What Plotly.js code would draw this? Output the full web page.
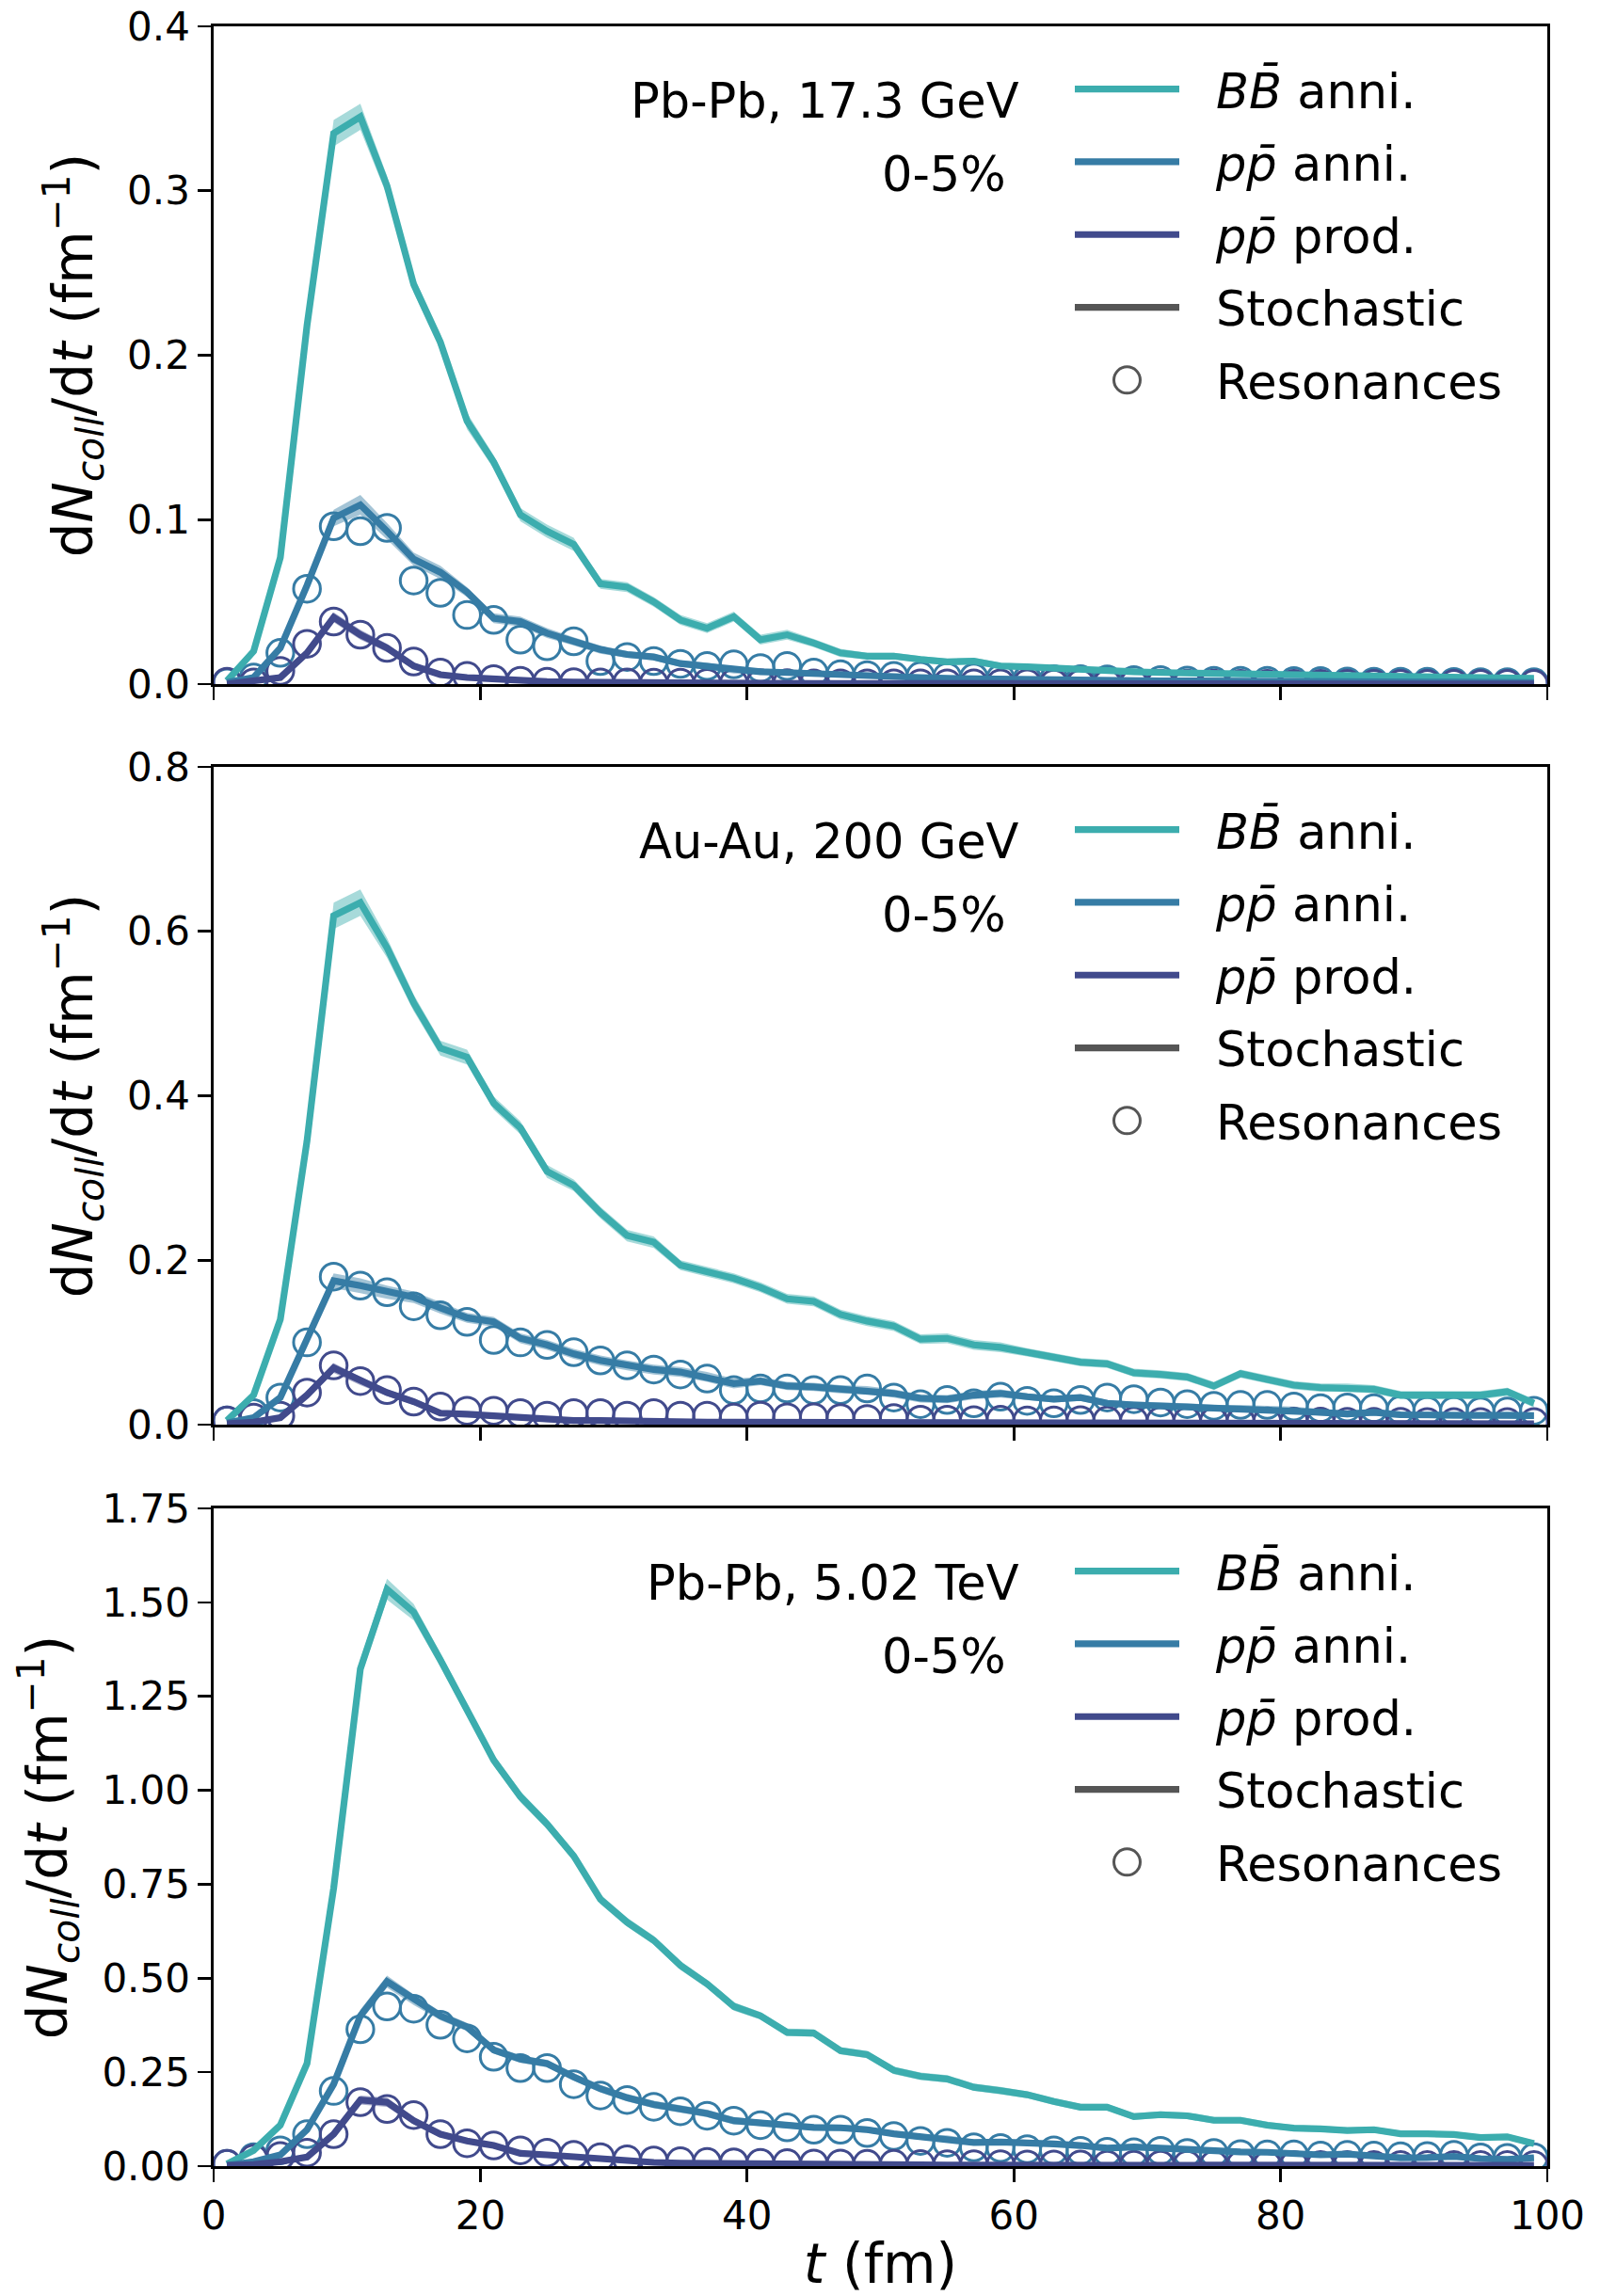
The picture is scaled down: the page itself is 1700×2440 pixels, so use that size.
<!DOCTYPE html>
<html>
<head>
<meta charset="utf-8">
<script src="https://cdn.plot.ly/plotly-3.0.1.min.js"></script>
<style>
html,body{margin:0;padding:0;background:#ffffff;}
#chart{width:1700px;height:2440px;}
</style>
</head>
<body>
<div id="chart"></div>
<script>
// ---------------- data ----------------
const t = [1,3,5,7,9,11,13,15,17,19,21,23,25,27,29,31,33,35,37,39,
           41,43,45,47,49,51,53,55,57,59,61,63,65,67,69,71,73,75,77,79,
           81,83,85,87,89,91,93,95,97,99];

const panelLabels = ['Pb-Pb, 17.3 GeV', 'Au-Au, 200 GeV', 'Pb-Pb, 5.02 TeV'];
const centralityLabel = '0-5%';
const seriesNames = ['<i>BB\u0304</i> anni.', '<i>pp\u0304</i> anni.', '<i>pp\u0304</i> prod.'];
const stochName = 'Stochastic';
const resName = 'Resonances';
const xTickVals = [0, 20, 40, 60, 80, 100];

// ---- Panel 1: Pb-Pb 17.3 GeV ----
const bb1 = [0.002,0.020,0.077,0.218,0.335,0.345,0.303,0.243,0.208,0.160,
             0.135,0.103,0.093,0.085,0.061,0.059,0.050,0.039,0.034,0.041,
             0.027,0.030,0.025,0.019,0.017,0.017,0.015,0.0135,0.014,0.011,
             0.0105,0.0095,0.009,0.008,0.0075,0.007,0.0068,0.0065,0.006,0.006,
             0.0055,0.0055,0.005,0.005,0.0048,0.0045,0.0042,0.004,0.0038,0.0035];
const bb1Err = [0.001,0.002,0.003,0.005,0.008,0.008,0.006,0.005,0.005,0.005,
                0.004,0.004,0.004,0.004,0.003,0.003,0.003,0.003,0.003,0.003,
                0.003,0.003,0.0025,0.0025,0.002,0.002,0.002,0.002,0.002,0.002,
                0.0018,0.0018,0.0018,0.0016,0.0016,0.0016,0.0015,0.0015,0.0015,0.0015,
                0.0014,0.0014,0.0014,0.0013,0.0013,0.0013,0.0012,0.0012,0.0012,0.0012];
const pa1 = [0.001,0.004,0.022,0.060,0.101,0.109,0.093,0.076,0.068,0.056,
             0.040,0.038,0.031,0.026,0.021,0.018,0.0165,0.0125,0.011,0.0085,
             0.0075,0.007,0.0062,0.0055,0.005,0.0045,0.004,0.0035,0.0032,0.003,
             0.0028,0.0026,0.0025,0.0023,0.0022,0.002,0.002,0.0018,0.0018,0.0016,
             0.0016,0.0015,0.0014,0.0014,0.0013,0.0012,0.0012,0.0011,0.001,0.001];
const pa1Err = [0.001,0.001,0.002,0.003,0.005,0.006,0.005,0.004,0.004,0.003,
                0.003,0.003,0.003,0.0025,0.0025,0.002,0.002,0.002,0.002,0.002,
                0.0015,0.0015,0.0015,0.0015,0.0015,0.0015,0.0015,0.0015,0.0015,0.0015,
                0.0012,0.0012,0.0012,0.0012,0.0012,0.0012,0.0012,0.0012,0.0012,0.0012,
                0.001,0.001,0.001,0.001,0.001,0.001,0.001,0.001,0.001,0.001];
const pa1Res = [0.001,0.004,0.019,0.058,0.096,0.093,0.095,0.063,0.0555,0.042,
                0.039,0.027,0.023,0.026,0.014,0.0165,0.014,0.0123,0.011,0.012,
                0.0097,0.011,0.007,0.006,0.0055,0.005,0.005,0.0045,0.004,0.0035,
                0.003,0.003,0.003,0.0028,0.0025,0.0025,0.0022,0.002,0.002,0.002,
                0.0018,0.0018,0.0016,0.0015,0.0015,0.0014,0.0013,0.0012,0.0012,0.0011];
const pp1 = [0.000,0.0015,0.004,0.019,0.0406,0.030,0.022,0.011,0.0057,0.004,
             0.003,0.002,0.0015,0.0012,0.001,0.0009,0.0008,0.0007,0.0006,0.0005,
             0.0005,0.0005,0.0004,0.0004,0.0004,0.0004,0.0003,0.0003,0.0003,0.0003,
             0.0003,0.0003,0.0002,0.0002,0.0002,0.0002,0.0002,0.0002,0.0002,0.0002,
             0.0002,0.0001,0.0001,0.0001,0.0001,0.0001,0.0001,0.0001,0.0001,0.0001];
const pp1Err = [0.0005,0.001,0.0015,0.002,0.003,0.003,0.0025,0.002,0.0015,0.0012,
                0.001,0.001,0.001,0.001,0.001,0.001,0.001,0.001,0.001,0.001,
                0.0008,0.0008,0.0008,0.0008,0.0008,0.0008,0.0008,0.0008,0.0008,0.0008,
                0.0006,0.0006,0.0006,0.0006,0.0006,0.0006,0.0006,0.0006,0.0006,0.0006,
                0.0005,0.0005,0.0005,0.0005,0.0005,0.0005,0.0005,0.0005,0.0005,0.0005];
const pp1Res = [0.0015,0.001,0.008,0.0245,0.038,0.030,0.022,0.0137,0.007,0.005,
                0.003,0.002,0.0015,0.0012,0.001,0.001,0.0008,0.0008,0.0007,0.0007,
                0.0006,0.0006,0.0005,0.0005,0.0005,0.0005,0.0004,0.0004,0.0004,0.0004,
                0.0004,0.0003,0.0003,0.0003,0.0003,0.0003,0.0003,0.0003,0.0002,0.0002,
                0.0002,0.0002,0.0002,0.0002,0.0002,0.0002,0.0002,0.0002,0.0002,0.0002];

// ---- Panel 2: Au-Au 200 GeV ----
const bb2 = [0.005,0.036,0.128,0.345,0.619,0.635,0.580,0.513,0.458,0.447,
             0.391,0.361,0.308,0.291,0.258,0.230,0.222,0.194,0.186,0.178,
             0.167,0.153,0.150,0.134,0.126,0.120,0.104,0.105,0.097,0.094,
             0.088,0.082,0.076,0.074,0.063,0.061,0.058,0.047,0.062,0.055,
             0.048,0.045,0.045,0.043,0.036,0.036,0.036,0.036,0.040,0.026];
const bb2Err = [0.002,0.004,0.006,0.010,0.016,0.016,0.012,0.010,0.009,0.009,
                0.008,0.008,0.008,0.007,0.007,0.007,0.007,0.006,0.006,0.006,
                0.006,0.006,0.006,0.006,0.006,0.006,0.006,0.006,0.006,0.006,
                0.005,0.005,0.005,0.005,0.005,0.005,0.005,0.005,0.005,0.005,
                0.005,0.005,0.005,0.005,0.005,0.005,0.005,0.005,0.005,0.005];
const pa2 = [0.002,0.0085,0.033,0.103,0.175,0.169,0.161,0.155,0.142,0.130,
             0.125,0.105,0.097,0.086,0.078,0.072,0.067,0.064,0.058,0.050,
             0.053,0.047,0.046,0.043,0.042,0.038,0.032,0.031,0.036,0.038,
             0.034,0.031,0.033,0.026,0.024,0.023,0.022,0.020,0.020,0.019,
             0.018,0.015,0.013,0.015,0.012,0.012,0.011,0.011,0.012,0.011];
const pa2Err = [0.001,0.002,0.004,0.006,0.009,0.009,0.008,0.007,0.007,0.006,
                0.006,0.006,0.006,0.006,0.006,0.006,0.006,0.006,0.006,0.006,
                0.005,0.005,0.005,0.005,0.005,0.005,0.005,0.005,0.005,0.005,
                0.004,0.004,0.004,0.004,0.004,0.004,0.004,0.004,0.004,0.004,
                0.004,0.004,0.004,0.004,0.004,0.004,0.004,0.004,0.004,0.004];
const pa2Res = [0.005,0.014,0.033,0.100,0.180,0.169,0.161,0.144,0.133,0.125,
                0.103,0.100,0.097,0.088,0.078,0.072,0.067,0.061,0.056,0.042,
                0.044,0.044,0.042,0.042,0.044,0.033,0.025,0.030,0.026,0.034,
                0.029,0.026,0.030,0.033,0.031,0.027,0.025,0.023,0.024,0.024,
                0.022,0.020,0.021,0.020,0.018,0.017,0.017,0.016,0.016,0.017];
const pp2 = [0.001,0.003,0.0085,0.036,0.069,0.053,0.039,0.028,0.014,0.0127,
             0.011,0.0085,0.006,0.005,0.005,0.004,0.004,0.0035,0.003,0.003,
             0.003,0.0028,0.0026,0.0025,0.0024,0.0022,0.002,0.002,0.0019,0.0018,
             0.0018,0.0017,0.0016,0.0016,0.0015,0.0015,0.0014,0.0014,0.0013,0.0013,
             0.0012,0.0012,0.0012,0.0011,0.0011,0.001,0.001,0.001,0.001,0.001];
const pp2Err = [0.001,0.002,0.003,0.004,0.006,0.005,0.004,0.004,0.003,0.003,
                0.003,0.003,0.003,0.003,0.003,0.003,0.003,0.003,0.003,0.003,
                0.002,0.002,0.002,0.002,0.002,0.002,0.002,0.002,0.002,0.002,
                0.002,0.002,0.002,0.002,0.002,0.002,0.002,0.002,0.002,0.002,
                0.002,0.002,0.002,0.002,0.002,0.002,0.002,0.002,0.002,0.002];
const pp2Res = [0.005,0.0085,0.011,0.039,0.072,0.053,0.042,0.028,0.022,0.017,
                0.017,0.014,0.011,0.014,0.014,0.011,0.014,0.011,0.011,0.0085,
                0.011,0.009,0.009,0.008,0.007,0.008,0.006,0.006,0.0055,0.006,
                0.005,0.005,0.0055,0.005,0.0045,0.0045,0.0042,0.004,0.004,0.004,
                0.0038,0.0036,0.0035,0.0035,0.0033,0.0032,0.003,0.003,0.003,0.003];

// ---- Panel 3: Pb-Pb 5.02 TeV ----
const bb3 = [0.006,0.042,0.109,0.273,0.740,1.323,1.535,1.474,1.347,1.214,
             1.080,0.983,0.910,0.825,0.710,0.649,0.601,0.534,0.485,0.425,
             0.400,0.356,0.354,0.307,0.297,0.255,0.239,0.232,0.210,0.201,
             0.190,0.172,0.157,0.157,0.132,0.137,0.134,0.122,0.122,0.109,
             0.101,0.099,0.095,0.097,0.086,0.086,0.084,0.076,0.078,0.060];
const bb3Err = [0.003,0.006,0.010,0.015,0.020,0.025,0.028,0.022,0.018,0.016,
                0.015,0.014,0.014,0.013,0.013,0.012,0.012,0.012,0.011,0.011,
                0.010,0.010,0.010,0.010,0.010,0.010,0.010,0.010,0.010,0.010,
                0.009,0.009,0.009,0.009,0.009,0.009,0.009,0.009,0.009,0.009,
                0.008,0.008,0.008,0.008,0.008,0.008,0.008,0.008,0.008,0.008];
const pa3 = [0.002,0.012,0.030,0.097,0.218,0.400,0.491,0.443,0.400,0.370,
             0.309,0.285,0.273,0.237,0.206,0.182,0.164,0.152,0.140,0.121,
             0.115,0.109,0.103,0.102,0.097,0.086,0.078,0.074,0.063,0.064,
             0.063,0.059,0.055,0.048,0.051,0.047,0.043,0.040,0.038,0.037,
             0.034,0.030,0.032,0.026,0.022,0.023,0.026,0.020,0.018,0.022];
const pa3Err = [0.002,0.004,0.006,0.010,0.014,0.016,0.016,0.014,0.012,0.011,
                0.010,0.010,0.010,0.010,0.010,0.010,0.010,0.010,0.010,0.010,
                0.008,0.008,0.008,0.008,0.008,0.008,0.008,0.008,0.008,0.008,
                0.007,0.007,0.007,0.007,0.007,0.007,0.007,0.007,0.007,0.007,
                0.006,0.006,0.006,0.006,0.006,0.006,0.006,0.006,0.006,0.006];
const pa3Res = [0.006,0.024,0.042,0.085,0.200,0.364,0.425,0.419,0.376,0.340,
                0.291,0.261,0.261,0.218,0.188,0.176,0.158,0.146,0.134,0.121,
                0.109,0.103,0.097,0.097,0.088,0.080,0.067,0.062,0.050,0.048,
                0.045,0.042,0.041,0.038,0.037,0.041,0.035,0.035,0.032,0.031,
                0.031,0.028,0.030,0.028,0.026,0.027,0.030,0.023,0.022,0.024];
const pp3 = [0.002,0.004,0.012,0.024,0.085,0.176,0.170,0.121,0.085,0.067,
             0.055,0.034,0.030,0.024,0.018,0.012,0.010,0.008,0.007,0.006,
             0.0055,0.005,0.0045,0.004,0.004,0.0035,0.0035,0.003,0.003,0.003,
             0.003,0.0028,0.0028,0.0026,0.0026,0.0025,0.0025,0.0024,0.0024,0.0023,
             0.0023,0.0022,0.0022,0.0021,0.0021,0.002,0.002,0.002,0.002,0.002];
const pp3Err = [0.001,0.002,0.004,0.006,0.010,0.012,0.012,0.010,0.008,0.007,
                0.006,0.005,0.005,0.005,0.004,0.004,0.004,0.004,0.004,0.004,
                0.003,0.003,0.003,0.003,0.003,0.003,0.003,0.003,0.003,0.003,
                0.003,0.003,0.003,0.003,0.003,0.003,0.003,0.003,0.003,0.003,
                0.003,0.003,0.003,0.003,0.003,0.003,0.003,0.003,0.003,0.003];
const pp3Res = [0.006,0.020,0.027,0.036,0.085,0.170,0.152,0.136,0.085,0.061,
                0.055,0.042,0.036,0.030,0.024,0.018,0.015,0.013,0.011,0.010,
                0.009,0.008,0.007,0.007,0.006,0.006,0.0055,0.005,0.005,0.0048,
                0.0045,0.0044,0.0042,0.004,0.004,0.0038,0.0037,0.0036,0.0035,0.0034,
                0.0033,0.0032,0.0032,0.0031,0.003,0.003,0.003,0.003,0.003,0.003];

// ---------------- styling ----------------
const COLORS = ['#3cadae', '#367ca5', '#414a8c'];
const BANDS = ['rgba(60,173,174,0.45)', 'rgba(54,124,165,0.45)', 'rgba(65,74,140,0.45)'];
const GREY = '#555555';
const FONT = 'DejaVu Sans, Verdana, sans-serif';
const LW = 7.2, MS = 28.5, MLW = 3;
const AXW = 2.7;

const panels = [
  {lines:[bb1,pa1,pp1], errs:[bb1Err,pa1Err,pp1Err], res:[null,pa1Res,pp1Res],
   yrange:[0,0.4], dtick:0.1, fmt:'.1f', dom:[0.69261,1.0], legY:0.98813},
  {lines:[bb2,pa2,pp2], errs:[bb2Err,pa2Err,pp2Err], res:[null,pa2Res,pp2Res],
   yrange:[0,0.8], dtick:0.2, fmt:'.1f', dom:[0.34653,0.65391], legY:0.64204},
  {lines:[bb3,pa3,pp3], errs:[bb3Err,pa3Err,pp3Err], res:[null,pa3Res,pp3Res],
   yrange:[0,1.75], dtick:0.25, fmt:'.2f', dom:[0.0,0.30739], legY:0.29552}
];

const traces = [];
const layout = {
  width: 1700, height: 2440,
  margin: {l: 227, r: 56, t: 28, b: 138, pad: 0},
  paper_bgcolor: '#ffffff', plot_bgcolor: '#ffffff',
  font: {family: FONT, color: '#000000', size: 42},
  showlegend: true,
  annotations: []
};

const yTitle = 'd<i>N</i><sub><i>coll</i></sub>/d<i>t</i> (fm<sup>\u22121</sup>)';

panels.forEach((P, i) => {
  const s = i === 0 ? '' : String(i + 1);
  const xa = 'x' + s, ya = 'y' + s;
  const leg = i === 0 ? 'legend' : 'legend' + (i + 1);

  // resonance circles (drawn underneath)
  [1, 2].forEach(k => {
    traces.push({
      type: 'scatter', mode: 'markers', x: t, y: P.res[k], xaxis: xa, yaxis: ya,
      marker: {symbol: 'circle-open', size: MS, color: COLORS[k], line: {width: MLW, color: COLORS[k]}},
      showlegend: false, hoverinfo: 'skip', legend: leg
    });
  });

  // stochastic bands + lines
  [0, 1, 2].forEach(k => {
    const lo = P.lines[k].map((v, j) => v - P.errs[k][j]);
    const hi = P.lines[k].map((v, j) => v + P.errs[k][j]);
    traces.push({type: 'scatter', mode: 'lines', x: t, y: lo, xaxis: xa, yaxis: ya,
      line: {width: 0, color: BANDS[k]}, showlegend: false, hoverinfo: 'skip', legend: leg});
    traces.push({type: 'scatter', mode: 'lines', x: t, y: hi, xaxis: xa, yaxis: ya,
      line: {width: 0, color: BANDS[k]}, fill: 'tonexty', fillcolor: BANDS[k],
      showlegend: false, hoverinfo: 'skip', legend: leg});
    traces.push({type: 'scatter', mode: 'lines', x: t, y: P.lines[k], xaxis: xa, yaxis: ya,
      line: {width: LW, color: COLORS[k]}, name: seriesNames[k],
      legend: leg, legendgroup: 'p' + i + 's' + k, showlegend: true});
  });

  // legend-only entries
  traces.push({type: 'scatter', mode: 'lines', x: [null], y: [null], xaxis: xa, yaxis: ya,
    line: {width: LW, color: GREY}, name: stochName, legend: leg, legendgroup: 'p' + i + 'st', showlegend: true});
  traces.push({type: 'scatter', mode: 'markers', x: [null], y: [null], xaxis: xa, yaxis: ya,
    marker: {symbol: 'circle-open', size: MS, color: GREY, line: {width: MLW, color: GREY}},
    name: resName, legend: leg, legendgroup: 'p' + i + 'rs', showlegend: true});

  const xax = {
    domain: [0, 1], anchor: ya, range: [0, 100], tickvals: xTickVals,
    ticks: 'outside', ticklen: 14, tickwidth: AXW, tickcolor: '#000',
    showline: true, linewidth: AXW, linecolor: '#000', mirror: true,
    showgrid: false, zeroline: false, showticklabels: i === 2,
    tickfont: {size: 42, color: '#000', family: FONT}
  };
  if (i === 2) {
    xax.title = {text: '<i>t</i> (fm)', font: {size: 58, family: FONT, color: '#000'}, standoff: 14};
  }
  layout['xaxis' + s] = xax;

  layout['yaxis' + s] = {
    domain: P.dom, anchor: xa, range: P.yrange, tick0: 0, dtick: P.dtick, tickformat: P.fmt,
    ticks: 'outside', ticklen: 14, tickwidth: AXW, tickcolor: '#000',
    showline: true, linewidth: AXW, linecolor: '#000', mirror: true,
    showgrid: false, zeroline: false,
    tickfont: {size: 42, color: '#000', family: FONT},
    title: {text: yTitle, font: {size: 58, family: FONT, color: '#000'}, standoff: 18}
  };

  layout[leg] = {
    x: 0.6422, xanchor: 'left', y: P.legY, yanchor: 'top',
    bgcolor: 'rgba(0,0,0,0)', borderwidth: 0,
    font: {size: 51, family: FONT, color: '#000'},
    itemwidth: 145, tracegroupgap: 8, traceorder: 'grouped', itemsizing: 'trace'
  };

  layout.annotations.push({
    xref: xa + ' domain', yref: ya + ' domain', x: 0.605, y: 0.8856,
    xanchor: 'right', yanchor: 'middle', showarrow: false, borderpad: 0,
    text: panelLabels[i], font: {size: 51, family: FONT, color: '#000'}
  });
  layout.annotations.push({
    xref: xa + ' domain', yref: ya + ' domain', x: 0.595, y: 0.7740,
    xanchor: 'right', yanchor: 'middle', showarrow: false, borderpad: 0,
    text: centralityLabel, font: {size: 51, family: FONT, color: '#000'}
  });
});

const gd = document.getElementById('chart');
Plotly.newPlot(gd, traces, layout, {staticPlot: true, displayModeBar: false}).then(() => {
  // lengthen legend line handles and center the circle handle, like the original legend
  gd.querySelectorAll('.infolayer .legendlines path').forEach(p => {
    if (p.getAttribute('d')) p.setAttribute('d', 'M5,0h111');
  });
  gd.querySelectorAll('.infolayer path.scatterpts').forEach(p => {
    p.setAttribute('transform', 'translate(60.5,0)');
    p.setAttribute('d', 'M14,0A14,14 0 1,1 0,-14A14,14 0 0,1 14,0Z');
  });
});
</script>
</body>
</html>
